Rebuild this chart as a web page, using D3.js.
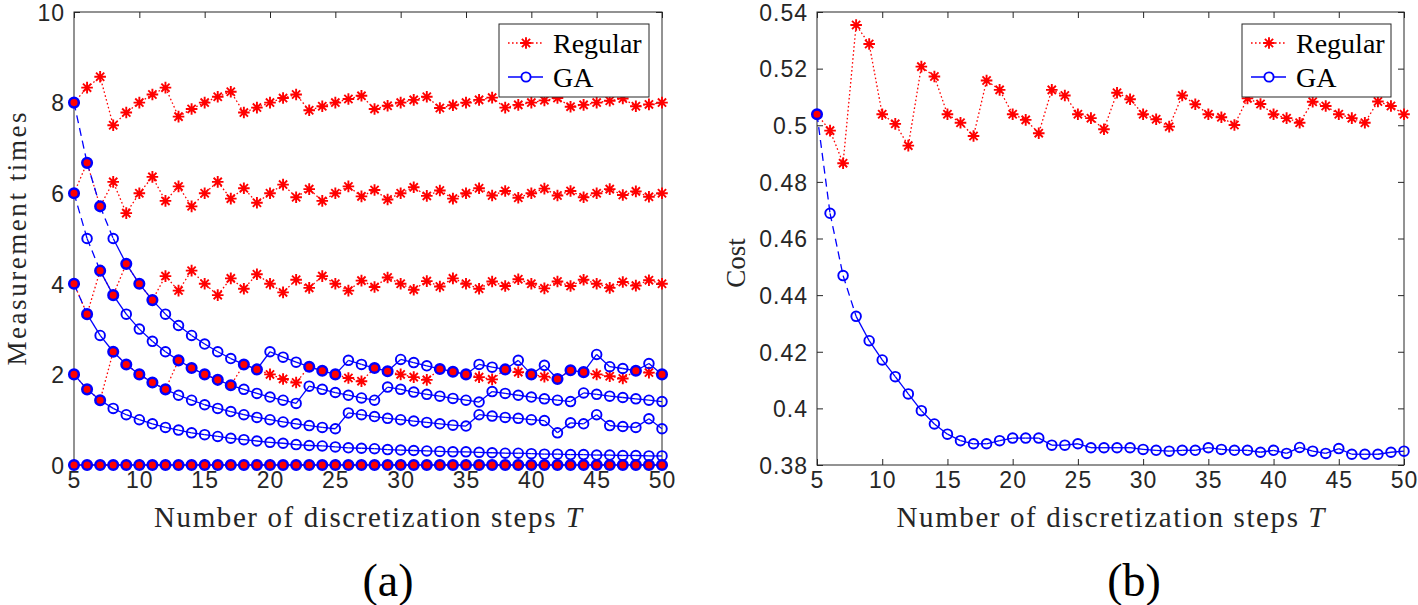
<!DOCTYPE html>
<html><head><meta charset="utf-8">
<script src="https://cdn.jsdelivr.net/npm/d3@7/dist/d3.min.js"></script>
<style>body{margin:0;background:#fff} svg{display:block}</style>
</head><body>
<svg id="c" width="1418" height="605"></svg>
<script>
// ---------------- data ----------------
const steps = [5,6,7,8,9,10,11,12,13,14,15,16,17,18,19,20,21,22,23,24,25,26,27,28,29,30,31,32,33,34,35,36,37,38,39,40,41,42,43,44,45,46,47,48,49,50];

// (a) Measurement times, Regular schedule (five sensors)
const regular8 = [8.00,8.33,8.57,7.50,7.78,8.00,8.18,8.33,7.69,7.86,8.00,8.13,8.24,7.78,7.89,8.00,8.10,8.18,7.83,7.92,8.00,8.08,8.15,7.86,7.93,8.00,8.06,8.13,7.88,7.94,8.00,8.06,8.11,7.89,7.95,8.00,8.05,8.10,7.91,7.95,8.00,8.04,8.09,7.92,7.96,8.00];
const regular6 = [6.00,6.67,5.71,6.25,5.56,6.00,6.36,5.83,6.15,5.71,6.00,6.25,5.88,6.11,5.79,6.00,6.19,5.91,6.09,5.83,6.00,6.15,5.93,6.07,5.86,6.00,6.13,5.94,6.06,5.88,6.00,6.11,5.95,6.05,5.90,6.00,6.10,5.95,6.05,5.91,6.00,6.09,5.96,6.04,5.92,6.00];
const regular4 = [4.00,3.33,4.29,3.75,4.44,4.00,3.64,4.17,3.85,4.29,4.00,3.75,4.12,3.89,4.21,4.00,3.81,4.09,3.91,4.17,4.00,3.85,4.07,3.93,4.14,4.00,3.87,4.06,3.94,4.12,4.00,3.89,4.05,3.95,4.10,4.00,3.90,4.05,3.95,4.09,4.00,3.91,4.04,3.96,4.08,4.00];
const regular2 = [2.00,1.67,1.43,2.50,2.22,2.00,1.82,1.67,2.31,2.14,2.00,1.88,1.76,2.22,2.11,2.00,1.90,1.82,2.17,2.08,2.00,1.92,1.85,2.14,2.07,2.00,1.94,1.88,2.12,2.06,2.00,1.94,1.89,2.11,2.05,2.00,1.95,1.90,2.09,2.05,2.00,1.96,1.91,2.08,2.04,2.00];
const regular0 = [0,0,0,0,0,0,0,0,0,0,0,0,0,0,0,0,0,0,0,0,0,0,0,0,0,0,0,0,0,0,0,0,0,0,0,0,0,0,0,0,0,0,0,0,0,0];

// (a) Measurement times, GA schedule (five sensors)
const ga1 = [8.00,6.67,5.71,5.00,4.44,4.00,3.64,3.33,3.08,2.86,2.67,2.50,2.35,2.22,2.11,2.50,2.38,2.27,2.17,2.08,2.00,2.31,2.22,2.14,2.07,2.33,2.26,2.19,2.12,2.06,2.00,2.22,2.16,2.11,2.31,2.00,2.20,1.90,2.09,2.05,2.44,2.17,2.13,2.08,2.24,2.00];
const ga2 = [6.00,5.00,4.29,3.75,3.33,3.00,2.73,2.50,2.31,2.14,2.00,1.88,1.76,1.67,1.58,1.50,1.43,1.36,1.74,1.67,1.60,1.54,1.48,1.43,1.72,1.67,1.61,1.56,1.52,1.47,1.43,1.39,1.62,1.58,1.54,1.50,1.46,1.43,1.40,1.59,1.56,1.52,1.49,1.46,1.43,1.40];
const ga3 = [4.00,3.33,2.86,2.50,2.22,2.00,1.82,1.67,1.54,1.43,1.33,1.25,1.18,1.11,1.05,1.00,0.95,0.91,0.87,0.83,0.80,1.15,1.11,1.07,1.03,1.00,0.97,0.94,0.91,0.88,0.86,1.11,1.08,1.05,1.03,1.00,0.98,0.71,0.93,0.91,1.11,0.87,0.85,0.83,1.02,0.80];
const ga4 = [2.00,1.67,1.43,1.25,1.11,1.00,0.91,0.83,0.77,0.71,0.67,0.63,0.59,0.56,0.53,0.50,0.48,0.45,0.43,0.42,0.40,0.38,0.37,0.36,0.34,0.33,0.32,0.31,0.30,0.29,0.29,0.28,0.27,0.26,0.26,0.25,0.24,0.24,0.23,0.23,0.22,0.22,0.21,0.21,0.20,0.20];
const ga5 = [0,0,0,0,0,0,0,0,0,0,0,0,0,0,0,0,0,0,0,0,0,0,0,0,0,0,0,0,0,0,0,0,0,0,0,0,0,0,0,0,0,0,0,0,0,0];

// (b) Cost
const regularCost = [0.5039,0.4981,0.4866,0.5354,0.5287,0.5039,0.5005,0.4928,0.5207,0.5172,0.5039,0.5009,0.4962,0.5158,0.5125,0.5039,0.5019,0.4972,0.5125,0.5105,0.5039,0.5025,0.4986,0.5115,0.5092,0.5039,0.5021,0.4995,0.5105,0.5074,0.5039,0.5028,0.5001,0.5095,0.5075,0.5039,0.5025,0.5009,0.5083,0.5068,0.5039,0.5025,0.5009,0.5084,0.5068,0.5039];
const gaCost = [0.5039,0.4689,0.4469,0.4325,0.4239,0.4171,0.4112,0.4051,0.3992,0.3945,0.3909,0.3886,0.3875,0.3875,0.3886,0.3895,0.3895,0.3895,0.3870,0.3870,0.3875,0.3861,0.3861,0.3861,0.3861,0.3855,0.3852,0.3849,0.3852,0.3852,0.3861,0.3855,0.3852,0.3852,0.3845,0.3852,0.3841,0.3862,0.3849,0.3841,0.3858,0.3838,0.3838,0.3838,0.3845,0.3849];

const xTicks = [5,10,15,20,25,30,35,40,45,50];
const yTicksA = [0,2,4,6,8,10];
const yTicksB = [0.38,0.40,0.42,0.44,0.46,0.48,0.50,0.52,0.54];
const legendNames = ["Regular","GA"];
const xLabel = "Number of discretization steps ";
const xLabelVar = "T";
const yLabelA = "Measurement times";
const yLabelB = "Cost";
const captions = ["(a)","(b)"];

// ---------------- drawing ----------------
const svg = d3.select("#c");
svg.append("rect").attr("width",1418).attr("height",605).attr("fill","#fff");

const AX = "#262626";
const RED = "#ff0000";
const BLUE = "#0000ff";
const SANS = "'Liberation Sans', Arial, Helvetica, sans-serif";
const SERIF = "'Liberation Serif', 'Times New Roman', serif";

function asterisk(g, cx, cy, r) {
  const d = r * Math.SQRT1_2;
  g.append("path")
    .attr("d", `M${cx-r},${cy}L${cx+r},${cy}M${cx},${cy-r}L${cx},${cy+r}M${cx-d},${cy-d}L${cx+d},${cy+d}M${cx-d},${cy+d}L${cx+d},${cy-d}`)
    .attr("stroke", RED).attr("stroke-width", 1.9).attr("fill","none");
}

function panel(cfg) {
  const g = svg.append("g");
  const x = d3.scaleLinear().domain([5,50]).range([cfg.left, cfg.right]);
  const y = d3.scaleLinear().domain(cfg.yDomain).range([465, 12]);

  // ticks (inward, all four sides)
  const tk = 6;
  const axB = g.append("g").attr("transform","translate(0,465)")
    .call(d3.axisBottom(x).tickValues(xTicks).tickSize(-tk).tickPadding(0).tickFormat(d=>d));
  const axT = g.append("g").attr("transform","translate(0,12)")
    .call(d3.axisTop(x).tickValues(xTicks).tickSize(-tk).tickFormat(""));
  const axL = g.append("g").attr("transform",`translate(${cfg.left},0)`)
    .call(d3.axisLeft(y).tickValues(cfg.yTicks).tickSize(-tk).tickFormat(cfg.fmt));
  const axR = g.append("g").attr("transform",`translate(${cfg.right},0)`)
    .call(d3.axisRight(y).tickValues(cfg.yTicks).tickSize(-tk).tickFormat(""));
  [axB,axT,axL,axR].forEach(a=>{
    a.select(".domain").remove();
    a.selectAll("line").attr("stroke",AX).attr("stroke-width",1);
  });
  axB.selectAll("text").attr("y", 23).attr("dy",null)
    .attr("font-family",SANS).attr("font-size",23).attr("letter-spacing","1px").attr("fill",AX);
  axL.selectAll("text").attr("x",-9).attr("dy","0.36em")
    .attr("font-family",SANS).attr("font-size",23).attr("letter-spacing","1px").attr("fill",AX);

  // box
  g.append("rect").attr("x",cfg.left).attr("y",12).attr("width",cfg.right-cfg.left).attr("height",453)
    .attr("fill","none").attr("stroke",AX).attr("stroke-width",1);

  const plot = g.append("g");
  const line = d3.line().x((v,i)=>x(steps[i])).y(v=>y(v));
  const same = (a,b)=>Math.abs(y(a)-y(b))<1.5;

  // Regular series
  cfg.regular.forEach(vals=>{
    plot.append("path").datum(vals).attr("d",line).attr("fill","none")
      .attr("stroke",RED).attr("stroke-width",1.3).attr("stroke-dasharray","1.6,2.4");
  });
  cfg.regular.forEach(vals=>{
    vals.forEach((v,i)=>{
      const hit = cfg.ga.some(s=>same(s[i],v));
      if (!hit) asterisk(plot, x(steps[i]), y(v), 5.8);
    });
  });
  // GA series
  cfg.ga.forEach(vals=>{
    for (let i=0;i<vals.length-1;i++){
      const x0=x(steps[i]), y0=y(vals[i]), x1=x(steps[i+1]), y1=y(vals[i+1]);
      const len = Math.hypot(x1-x0,y1-y0);
      plot.append("line").attr("x1",x0).attr("y1",y0).attr("x2",x1).attr("y2",y1)
        .attr("stroke",BLUE).attr("stroke-width",1.3)
        .attr("stroke-dasharray", len>30 ? "8,5" : null);
    }
  });
  cfg.ga.forEach(vals=>{
    vals.forEach((v,i)=>{
      const hit = cfg.regular.some(s=>same(s[i],v));
      plot.append("circle").attr("cx",x(steps[i])).attr("cy",y(v)).attr("r",4.8)
        .attr("fill", hit?RED:"none").attr("stroke",BLUE).attr("stroke-width", hit?2.5:1.9);
    });
  });

  // legend
  const L = cfg.legend;
  const lg = g.append("g");
  lg.append("rect").attr("x",L.x).attr("y",24).attr("width",L.w).attr("height",73)
    .attr("fill","#fff").attr("stroke",AX).attr("stroke-width",1);
  const rows = [43, 77];
  lg.append("line").attr("x1",L.x+9).attr("x2",L.x+44).attr("y1",rows[0]).attr("y2",rows[0])
    .attr("stroke",RED).attr("stroke-width",1.3).attr("stroke-dasharray","1.6,2.4");
  asterisk(lg, L.x+27, rows[0], 5.8);
  lg.append("line").attr("x1",L.x+9).attr("x2",L.x+44).attr("y1",rows[1]).attr("y2",rows[1])
    .attr("stroke",BLUE).attr("stroke-width",1.3);
  lg.append("circle").attr("cx",L.x+27).attr("cy",rows[1]).attr("r",4.6)
    .attr("fill","#fff").attr("stroke",BLUE).attr("stroke-width",1.9);
  legendNames.forEach((n,k)=>{
    lg.append("text").attr("x",L.x+54).attr("y",rows[k]).attr("dy","0.35em")
      .attr("font-family",SERIF).attr("font-size",28).attr("fill","#000").text(n);
  });

  // x label
  const cx = (cfg.left+cfg.right)/2;
  const xl = g.append("text").attr("x",cx).attr("y",527).attr("text-anchor","middle")
    .attr("font-family",SERIF).attr("font-size",29).attr("fill",AX)
    .attr("textLength",428).attr("lengthAdjust","spacing");
  xl.append("tspan").text(xLabel);
  xl.append("tspan").attr("font-style","italic").text(xLabelVar);

  // y label
  const yl = g.append("text").attr("transform",`translate(${cfg.ylx},${cfg.yly}) rotate(-90)`)
    .attr("text-anchor","middle").attr("font-family",SERIF).attr("font-size",27).attr("fill",AX)
    .text(cfg.ylabel);
  if (cfg.ylLen) yl.attr("textLength",cfg.ylLen).attr("lengthAdjust","spacing");

  // caption
  g.append("text").attr("x",cfg.capX).attr("y",596).attr("text-anchor","middle")
    .attr("font-family",SERIF).attr("font-size",46).attr("fill","#000").text(cfg.caption);
}

panel({left:74, right:662, yDomain:[0,10], yTicks:yTicksA, fmt:d=>d,
  regular:[regular8,regular6,regular4,regular2,regular0], ga:[ga1,ga2,ga3,ga4,ga5],
  legend:{x:499, w:150}, ylabel:yLabelA, ylx:26, yly:239, ylLen:253, caption:captions[0], capX:388});

panel({left:817, right:1404, yDomain:[0.38,0.54], yTicks:yTicksB, fmt:d=>String(+d.toFixed(2)),
  regular:[regularCost], ga:[gaCost],
  legend:{x:1242, w:149}, ylabel:yLabelB, ylx:745, yly:263, ylLen:null, caption:captions[1], capX:1134});
</script>
</body></html>
